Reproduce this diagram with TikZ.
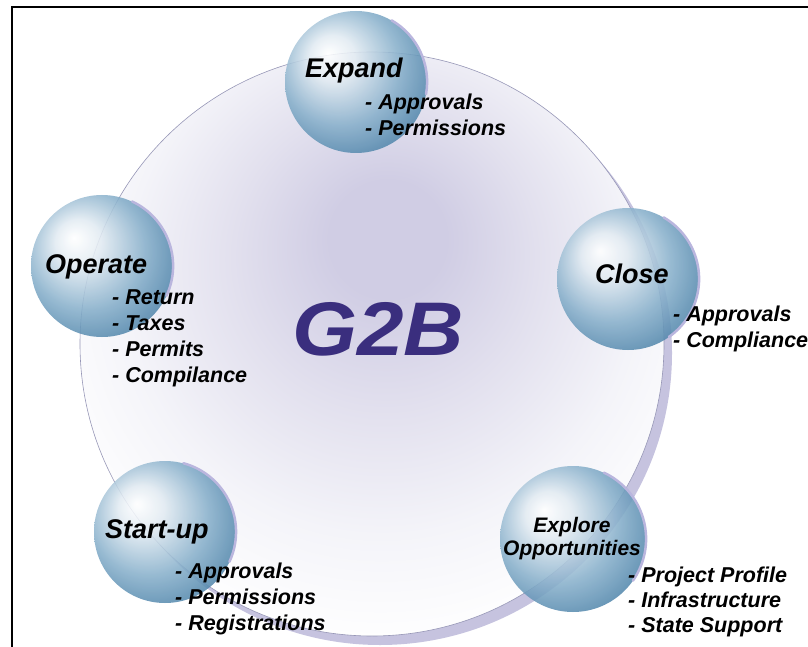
\documentclass[tikz,border=0pt]{standalone}
\usepackage{fontspec}
\setmainfont{Liberation Sans}
\usepackage{tikz}
\usepackage{xcolor}

\definecolor{discmid}{RGB}{208,205,228}
\definecolor{discrim}{RGB}{226,224,238}
\definecolor{discedge}{RGB}{244,244,249}
\definecolor{discshade}{RGB}{198,195,223}
\definecolor{discline}{RGB}{150,150,182}
\definecolor{bubbledark}{RGB}{76,130,168}
\definecolor{bubblemid}{RGB}{136,176,203}
\definecolor{bubblelight}{RGB}{226,235,242}
\definecolor{bubblerim}{RGB}{186,182,222}
\definecolor{gtwob}{RGB}{58,46,126}

% node box maps onto the inner 25bp of a radial shading
\pgfdeclareradialshading{discfill}{\pgfpoint{1.5bp}{10bp}}{color(0bp)=(discmid); color(5bp)=(discmid); color(13bp)=(discrim); color(22bp)=(discedge); color(30bp)=(white); color(50bp)=(white)}
\pgfdeclareradialshading{bubblefill}{\pgfpoint{-10bp}{10bp}}{color(0bp)=(white); color(8bp)=(bubblelight); color(21bp)=(bubblemid); color(32bp)=(bubbledark); color(50bp)=(bubbledark)}

\begin{document}
\begin{tikzpicture}[x=1pt, y=-1pt,
  head/.style={font=\fontsize{27}{30}\selectfont\bfseries\itshape, inner sep=0pt, anchor=base west},
  items/.style={font=\fontsize{21.5}{26}\selectfont\bfseries\itshape, inner sep=0pt, align=left, anchor=base west},
  bubble/.style={circle, minimum size=142pt, inner sep=0pt, shading=bubblefill, fill opacity=0.88},
  rim/.style={bubblerim, line width=2.5pt, line cap=round}]

\useasboundingbox (0,0) rectangle (808,647);

\node[circle, minimum size=584pt, fill=discshade] (shadow) at (380,353) {};
\node[circle, minimum size=584pt, shading=discfill, draw=discline, line width=0.6pt] (disc) at (372,344) {};

\node[font=\fontsize{76}{80}\selectfont\bfseries\itshape, text=gtwob, inner sep=0pt, anchor=base west] (g2b) at (292,355) {\scalebox{1.1}[1]{G2B}};

\node[bubble] (expand) at (356,82) {};
\node[bubble] (operate) at (102,266) {};
\node[bubble] (close) at (628,279) {};
\node[bubble] (startup) at (165,532) {};
\node[bubble, minimum size=146pt] (explore) at (573,539) {};

\draw[rim] (expand.60) arc[start angle=-60, end angle=10, radius=71];
\draw[rim] (operate.65) arc[start angle=-65, end angle=25, radius=71];
\draw[rim] (close.60) arc[start angle=-60, end angle=55, radius=71];
\draw[rim] (startup.75) arc[start angle=-75, end angle=25, radius=71];
\draw[rim] (explore.65) arc[start angle=-65, end angle=35, radius=73];

% multi-line nodes sit on the baseline of their last line
\node[head] (expandhd) at (305,78) {Expand};
\node[items] (expandls) at (365,136) {- Approvals\\- Permissions};

\node[head] (operatehd) at (45,273) {Operate};
\node[items] (operatels) at (112,382) {- Return\\- Taxes\\- Permits\\- Compilance};

\node[head] (closehd) at (595,283) {Close};
\node[items] (closels) at (673,347) {- Approvals\\- Compliance};

\node[head] (startuphd) at (105,538) {Start-up};
\node[items] (startupls) at (175,630) {- Approvals\\- Permissions\\- Registrations};

\node[items, align=center, anchor=base, font=\fontsize{21}{23}\selectfont\bfseries\itshape] (explorehd) at (572,555) {Explore\\Opportunities};
\node[items, font=\fontsize{21.5}{25}\selectfont\bfseries\itshape] (explorels) at (628,632) {- Project Profile\\- Infrastructure\\- State Support};

\draw[line width=2pt] (11.5,647) -- (11.5,7.5) -- (808,7.5);
\end{tikzpicture}
\end{document}
